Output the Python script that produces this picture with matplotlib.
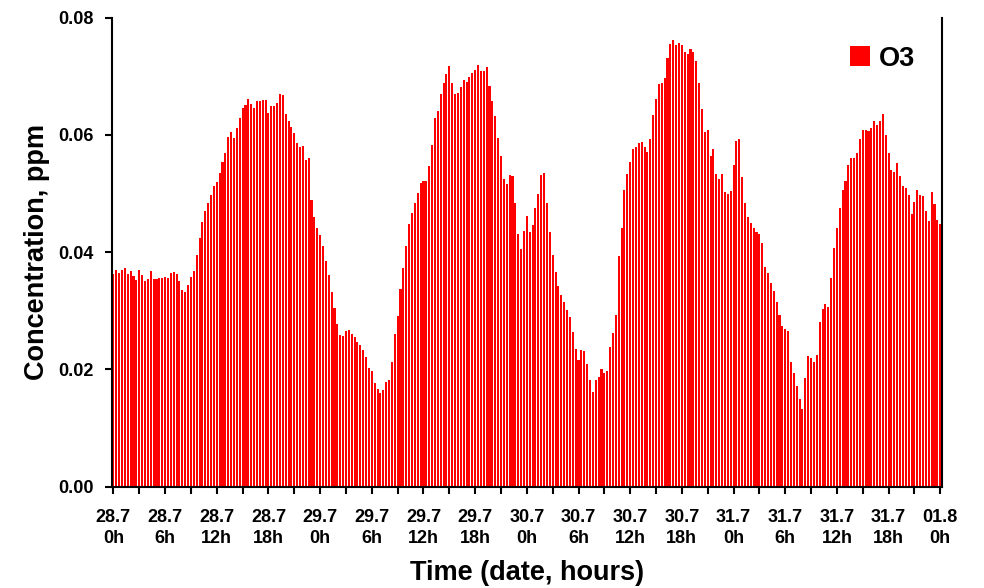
import numpy as np
import matplotlib
matplotlib.use("Agg")
import matplotlib.pyplot as plt

# O3 concentration (ppm), 20-minute readings from 28.7 0h to 01.8 0h
day1 = [0.0363, 0.0370, 0.0364, 0.0370, 0.0373, 0.0363, 0.0368, 0.0359, 0.0353, 0.0370,
        0.0361, 0.0351, 0.0354, 0.0368, 0.0354, 0.0354, 0.0356, 0.0356, 0.0358, 0.0356,
        0.0364, 0.0366, 0.0363, 0.0351, 0.0336, 0.0331, 0.0344, 0.0358, 0.0368, 0.0395,
        0.0424, 0.0451, 0.0470, 0.0484, 0.0498, 0.0513, 0.0520, 0.0535, 0.0553, 0.0569,
        0.0596, 0.0604, 0.0595, 0.0611, 0.0629, 0.0646, 0.0650, 0.0661, 0.0653]
day1b = [0.0646, 0.0657, 0.0657, 0.0660, 0.0660, 0.0637, 0.0649, 0.0649, 0.0655, 0.0670,
         0.0667, 0.0635, 0.0624, 0.0614, 0.0603, 0.0586, 0.0579, 0.0581, 0.0557, 0.0561,
         0.0488, 0.0459, 0.0441, 0.0429, 0.0410, 0.0385, 0.0361, 0.0331, 0.0305, 0.0277,
         0.0258, 0.0256, 0.0265, 0.0267, 0.0260, 0.0255, 0.0246, 0.0241, 0.0233, 0.0221,
         0.0203, 0.0197, 0.0176, 0.0166, 0.0159, 0.0165, 0.0179, 0.0181, 0.0212, 0.0260]
day2 = [0.0291, 0.0337, 0.0373, 0.0411, 0.0447, 0.0467, 0.0484, 0.0501, 0.0518, 0.0521,
        0.0521, 0.0547, 0.0583, 0.0629, 0.0641, 0.0669, 0.0688, 0.0703, 0.0717, 0.0688,
        0.0670, 0.0672, 0.0682, 0.0694, 0.0690, 0.0699, 0.0706, 0.0711, 0.0719, 0.0708,
        0.0709, 0.0715, 0.0683, 0.0658, 0.0632, 0.0594, 0.0563, 0.0525, 0.0516, 0.0532,
        0.0529, 0.0484, 0.0430, 0.0405, 0.0436, 0.0461, 0.0434, 0.0446, 0.0475]
day3 = [0.0499, 0.0532, 0.0535, 0.0484, 0.0434, 0.0395, 0.0366, 0.0342, 0.0326, 0.0314,
        0.0301, 0.0289, 0.0263, 0.0235, 0.0215, 0.0233, 0.0231, 0.0209, 0.0181, 0.0161,
        0.0181, 0.0186, 0.0201, 0.0194, 0.0197, 0.0238, 0.0262, 0.0293, 0.0393, 0.0441,
        0.0506, 0.0533, 0.0553, 0.0575, 0.0579, 0.0586, 0.0588, 0.0579, 0.0570, 0.0593,
        0.0633, 0.0661, 0.0687, 0.0689, 0.0697, 0.0731, 0.0755, 0.0762]
day3b = [0.0753, 0.0757, 0.0753, 0.0741, 0.0737, 0.0746, 0.0741, 0.0725, 0.0689, 0.0644,
         0.0605, 0.0608, 0.0563, 0.0575, 0.0533, 0.0525, 0.0533, 0.0502, 0.0499, 0.0504,
         0.0549, 0.0590, 0.0593, 0.0528, 0.0483, 0.0459, 0.0450, 0.0441, 0.0434, 0.0430,
         0.0416, 0.0374, 0.0364, 0.0347, 0.0334, 0.0314, 0.0292, 0.0274, 0.0268, 0.0266,
         0.0212, 0.0194, 0.0171, 0.0149, 0.0132, 0.0185, 0.0222, 0.0219, 0.0212]
day4 = [0.0225, 0.0280, 0.0303, 0.0312, 0.0306, 0.0356, 0.0407, 0.0441, 0.0475, 0.0505,
        0.0521, 0.0549, 0.0561, 0.0560, 0.0569, 0.0592, 0.0608, 0.0608, 0.0606, 0.0611,
        0.0623, 0.0616, 0.0623, 0.0635, 0.0600, 0.0569, 0.0540, 0.0537, 0.0552, 0.0529,
        0.0512, 0.0509, 0.0497, 0.0465, 0.0486, 0.0505, 0.0497, 0.0495, 0.0470, 0.0453,
        0.0502, 0.0482, 0.0455, 0.0447]

tick_labels = ["28.7\n0h", "28.7\n6h", "28.7\n12h", "28.7\n18h",
               "29.7\n0h", "29.7\n6h", "29.7\n12h", "29.7\n18h",
               "30.7\n0h", "30.7\n6h", "30.7\n12h", "30.7\n18h",
               "31.7\n0h", "31.7\n6h", "31.7\n12h", "31.7\n18h",
               "01.8\n0h"]

o3 = np.array(day1 + day1b + day2 + day3 + day3b + day4)
x = np.arange(len(o3))

plt.rcParams['font.family'] = ['Liberation Sans', 'DejaVu Sans']
plt.rcParams['font.weight'] = 'bold'

fig = plt.figure(figsize=(9.84, 5.88), dpi=100)
ax = fig.add_axes([0.1138, 0.1726, 0.8432, 0.7976])

ax.bar(x, o3, width=0.72, color='#ff0000', edgecolor='none', label='O3')

ax.set_xlim(-0.5, len(o3) - 0.5)
ax.set_ylim(0, 0.08)
ax.set_yticks([0.0, 0.02, 0.04, 0.06, 0.08])
ax.set_yticklabels(['0.00', '0.02', '0.04', '0.06', '0.08'])
ax.set_xticks(np.arange(0, len(o3), 18))
ax.set_xticklabels(tick_labels, linespacing=1.35)
ax.set_xticks(np.arange(9, len(o3), 18), minor=True)

ax.tick_params(axis='both', which='both', direction='out', length=5, width=1.5,
               labelsize=13)
ax.tick_params(axis='x', pad=11)
ax.tick_params(axis='y', pad=8)

for side in ['left', 'bottom', 'right']:
    ax.spines[side].set_linewidth(1.5)
ax.spines['top'].set_visible(False)

ax.set_xlabel('Time (date, hours)', fontsize=19.5, fontweight='bold', labelpad=9)
ax.set_ylabel('Concentration, ppm', fontsize=19.5, fontweight='bold', labelpad=6)

ax.legend(loc='upper right', bbox_to_anchor=(0.997, 0.992), frameon=False,
          handlelength=0.75, handleheight=0.75, handletextpad=0.3,
          prop={'weight': 'bold', 'size': 19.5})

fig.savefig('out.png', dpi=100)
